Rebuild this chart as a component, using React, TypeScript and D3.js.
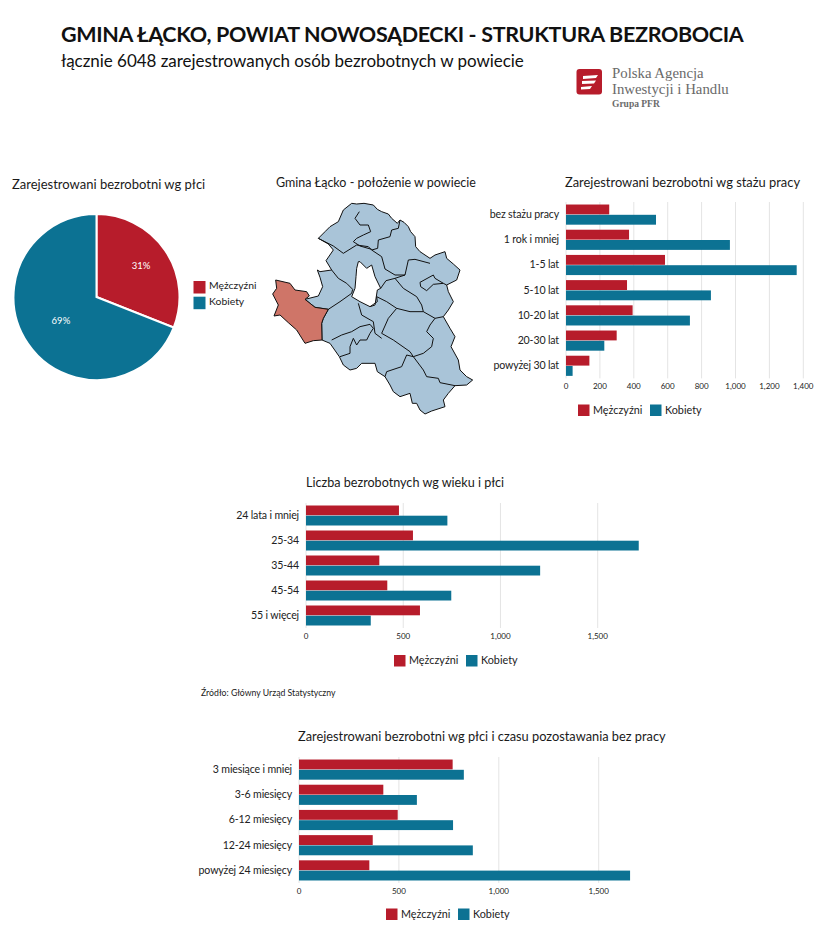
import React from 'react';
import * as d3 from 'd3';

type Pt = [number, number];

const FONT = 'Lato, sans-serif';
const RED = '#b71c2b';
const TEAL = '#0c7293';

const seriesNames = ['Mężczyźni', 'Kobiety'];

// pie
const genderShares = [31, 69];

// staż pracy
const stazCategories = ['bez stażu pracy', '1 rok i mniej', '1-5 lat', '5-10 lat', '10-20 lat', '20-30 lat', 'powyżej 30 lat'];
const stazMen = [255, 372, 584, 360, 393, 299, 138];
const stazWomen = [531, 967, 1361, 855, 731, 226, 39];
const stazTicks = [0, 200, 400, 600, 800, 1000, 1200, 1400];

// wiek
const wiekCategories = ['24 lata i mniej', '25-34', '35-44', '45-54', '55 i więcej'];
const wiekMen = [478, 550, 377, 418, 586];
const wiekWomen = [727, 1711, 1204, 747, 333];
const wiekTicks = [0, 500, 1000, 1500];

// czas pozostawania bez pracy
const czasCategories = ['3 miesiące i mniej', '3-6 miesięcy', '6-12 miesięcy', '12-24 miesięcy', 'powyżej 24 miesięcy'];
const czasMen = [769, 422, 494, 369, 352];
const czasWomen = [825, 590, 771, 870, 1657];
const czasTicks = [0, 500, 1000, 1500];

// map outlines (map units = 3x page px)
const countyOutline: Pt[] = [
  [275, 40], [290, 42], [312, 40], [340, 45], [352, 58], [365, 65], [385, 72], [395, 85], [412, 100], [420, 90], [432, 97], [445, 110],
  [452, 125], [465, 140], [467, 170], [480, 185], [510, 205], [525, 195], [555, 185], [560, 205], [580, 222],
  [600, 240], [590, 270], [560, 285], [565, 305], [580, 335], [565, 360], [550, 380], [570, 415], [585, 440],
  [573, 470], [595, 510], [600, 540], [620, 560], [638, 570], [620, 585], [585, 587], [565, 610], [550, 630], [555, 650],
  [515, 663], [495, 672], [480, 660], [470, 640], [457, 640], [450, 610], [420, 620], [400, 605], [390, 585], [375, 560],
  [352, 545], [345, 520], [305, 520], [290, 535], [270, 540], [250, 525], [238, 500], [210, 460], [186, 450], [185, 400],
  [190, 385], [205, 358], [165, 352], [135, 328], [175, 318], [188, 290], [180, 262], [172, 240], [180, 245], [215, 240],
  [198, 212], [220, 180], [205, 162], [175, 145], [195, 125], [210, 110], [235, 95], [250, 60],
];
const countyHole: Pt[] = [
  [295, 215], [300, 215], [320, 235], [335, 225], [345, 260], [362, 295], [352, 300], [345, 345], [330, 350], [300, 335],
  [275, 320], [285, 295], [288, 260], [290, 235],
];
const lackoOutline: Pt[] = [
  [47, 270], [90, 280], [105, 300], [140, 305], [148, 318], [135, 328], [165, 352], [205, 358], [190, 385], [185, 400],
  [186, 450], [160, 452], [135, 460], [110, 420], [85, 398], [60, 375], [42, 378], [55, 345], [38, 312], [50, 295],
];
const enclave: Pt[] = [
  [480, 277], [520, 255], [525, 265], [550, 280], [520, 283], [500, 302], [482, 290],
];
const gminaBorders: Pt[][] = [
  [[298, 65], [285, 85], [300, 105], [325, 105], [332, 125], [310, 135], [290, 145], [280, 155], [300, 168], [335, 178]],
  [[175, 145], [220, 168], [250, 190], [290, 165], [325, 170], [335, 180], [365, 200], [375, 237], [405, 255], [435, 255], [445, 210], [465, 208], [510, 220]],
  [[335, 180], [353, 175], [355, 150], [390, 140], [395, 120], [415, 115], [420, 90]],
  [[215, 240], [235, 265], [260, 280], [278, 298], [275, 310], [240, 335], [205, 358]],
  [[435, 255], [405, 265], [430, 295], [470, 320], [485, 345], [490, 365], [525, 385], [550, 380]],
  [[405, 265], [378, 272], [362, 295]],
  [[350, 320], [380, 335], [410, 355], [450, 365], [490, 365]],
  [[410, 355], [385, 385], [365, 430], [400, 450], [450, 485], [460, 500]],
  [[525, 385], [510, 405], [500, 425], [520, 445], [515, 470], [490, 490], [460, 500]],
  [[460, 500], [490, 540], [500, 560], [535, 565], [540, 578], [585, 587]],
  [[460, 500], [440, 495], [425, 530], [380, 545], [375, 560]],
  [[295, 340], [305, 375], [340, 395], [345, 430], [365, 445]],
  [[330, 350], [352, 335], [350, 320]],
  [[215, 450], [245, 435], [275, 425], [300, 410], [330, 403], [340, 415], [330, 430], [320, 450], [300, 450], [290, 465], [280, 445], [270, 470], [270, 490], [240, 500]],
  [[550, 280], [560, 285]],
];

// labels sit at different distances from the centre in the two slices
const pieLabelRadius = [54, 43];

const Legend = ({ x1, x2, y }: { x1: number; x2: number; y: number }) => (
  <g fontFamily={FONT} fontSize={10.8} fill="#222">
    {[x1, x2].map((x, i) => (
      <g key={i}>
        <rect x={x} y={y} width={11.5} height={11.5} fill={i === 0 ? RED : TEAL} />
        <text x={x + 15} y={y + 6.5} dominantBaseline="middle">{seriesNames[i]}</text>
      </g>
    ))}
  </g>
);

interface BarProps {
  categories: string[];
  men: number[];
  women: number[];
  ticks: number[];
  x0: number;
  x1: number;
  maxTick: number;
  top: number;
  bottom: number;
}

const BarChart = ({ categories, men, women, ticks, x0, x1, maxTick, top, bottom }: BarProps) => {
  const x = d3.scaleLinear().domain([0, maxTick]).range([x0, x1]);
  const y = d3.scaleBand().domain(categories).range([top, bottom]).paddingInner(0.2).paddingOuter(0.1);
  const sub = d3.scaleBand().domain(seriesNames).range([0, y.bandwidth()]).paddingInner(0.04);
  const fmt = d3.format(',');
  return (
    <g fontFamily={FONT}>
      {ticks.map(t => (
        <g key={t}>
          <line x1={x(t)} x2={x(t)} y1={top} y2={bottom} stroke="#e4e4e4" strokeWidth={1} />
          <text x={x(t)} y={bottom + 9} textAnchor="middle" dominantBaseline="middle" fontSize={8} fill="#222">{fmt(t)}</text>
        </g>
      ))}
      {categories.map((c, i) => (
        <g key={c}>
          <text x={x0 - 7} y={y(c)! + y.bandwidth() / 2 + 0.8} textAnchor="end" dominantBaseline="middle" fontSize={10.6} letterSpacing={-0.15} fill="#222">{c}</text>
          <rect x={x0} y={y(c)! + sub(seriesNames[0])!} width={x(men[i]) - x0} height={sub.bandwidth()} fill={RED} />
          <rect x={x0} y={y(c)! + sub(seriesNames[1])!} width={x(women[i]) - x0} height={sub.bandwidth()} fill={TEAL} />
        </g>
      ))}
    </g>
  );
};

const PieChart = ({ cx, cy, r }: { cx: number; cy: number; r: number }) => {
  const arcs = d3.pie<number>().sort(null)(genderShares);
  const arc = d3.arc<d3.PieArcDatum<number>>().innerRadius(0).outerRadius(r);
  return (
    <g transform={`translate(${cx},${cy})`}>
      {arcs.map((a, i) => (
        <path key={i} d={arc(a)!} fill={i === 0 ? RED : TEAL} stroke="#fff" strokeWidth={2} />
      ))}
      {arcs.map((a, i) => {
        const label = d3.arc<d3.PieArcDatum<number>>().innerRadius(pieLabelRadius[i]).outerRadius(pieLabelRadius[i]);
        const [lx, ly] = label.centroid(a);
        return (
          <text key={i} x={lx} y={ly} textAnchor="middle" dominantBaseline="middle" fontFamily={FONT} fontSize={9.5} fill="#fff">
            {a.data}%
          </text>
        );
      })}
    </g>
  );
};

const GminaMap = () => {
  const mx = d3.scaleLinear().domain([0, 230 * 3]).range([260, 490]);
  const my = d3.scaleLinear().domain([0, 230 * 3]).range([190, 420]);
  const line = d3.line<Pt>().x(d => mx(d[0])).y(d => my(d[1]));
  const closed = (pts: Pt[]) => line(pts)! + 'Z';
  return (
    <g strokeLinejoin="round">
      <path d={closed(countyOutline) + closed(countyHole)} fillRule="evenodd" fill="#a9c4d8" stroke="#111" strokeWidth={1} />
      <path d={closed(enclave)} fill="#a9c4d8" stroke="#111" strokeWidth={1} />
      <path d={closed(lackoOutline)} fill="#cf7568" stroke="#111" strokeWidth={1} />
      {gminaBorders.map((b, i) => (
        <path key={i} d={line(b)!} fill="none" stroke="#111" strokeWidth={1} />
      ))}
    </g>
  );
};

const Logo = () => (
  <g>
    <rect x={576.5} y={69} width={25.5} height={25.5} rx={3} fill={RED} />
    <path d="M583 76 L598 75 L596 78 L583 79 Z M582 81 L596 80.5 L594 83.5 L582 84 Z M581 87 L592 86 L590 89 L581 89.5 Z" fill="#fff" />
    <g fontFamily="'Liberation Serif', serif" fill="#6a6a6a">
      <text x={612} y={78} fontSize={14.8}>Polska Agencja</text>
      <text x={612} y={94} fontSize={14.8}>Inwestycji i Handlu</text>
      <text x={612} y={107} fontSize={9.5} fontWeight="bold">Grupa PFR</text>
    </g>
  </g>
);

const Title = ({ x, y, size = 13, children }: { x: number; y: number; size?: number; children: string }) => (
  <text x={x} y={y} fontFamily={FONT} fontSize={size} fill="#1a1a1a" dominantBaseline="middle">{children}</text>
);

export default function App() {
  return (
    <svg width={823} height={947} style={{ position: 'absolute', left: 0, top: 0, background: '#fff' }}>
      <text x={61} y={42} fontFamily={FONT} fontWeight="bold" fontSize={21.5} letterSpacing={-0.33} fill="#111">GMINA ŁĄCKO, POWIAT NOWOSĄDECKI - STRUKTURA BEZROBOCIA</text>
      <text x={61} y={67} fontFamily={FONT} fontSize={17} letterSpacing={-0.04} fill="#111">łącznie 6048 zarejestrowanych osób bezrobotnych w powiecie</text>
      <Logo />

      <Title x={12} y={185.5}>Zarejestrowani bezrobotni wg płci</Title>
      <PieChart cx={96.5} cy={297} r={83} />
      <g fontFamily={FONT} fontSize={10.4} fill="#222">
        {seriesNames.map((s, i) => (
          <g key={s}>
            <rect x={193.5} y={281 + i * 15.7} width={12} height={12.5} fill={i === 0 ? RED : TEAL} />
            <text x={209} y={286.5 + i * 15.7} dominantBaseline="middle">{s}</text>
          </g>
        ))}
      </g>

      <Title x={276} y={184} size={12.5}>Gmina Łącko - położenie w powiecie</Title>
      <GminaMap />

      <Title x={565} y={184} size={12.9}>Zarejestrowani bezrobotni wg stażu pracy</Title>
      <BarChart categories={stazCategories} men={stazMen} women={stazWomen} ticks={stazTicks} x0={566} x1={803.3} maxTick={1400} top={202} bottom={378.4} />
      <Legend x1={578} x2={650} y={404.5} />

      <Title x={306} y={484} size={12.6}>Liczba bezrobotnych wg wieku i płci</Title>
      <BarChart categories={wiekCategories} men={wiekMen} women={wiekWomen} ticks={wiekTicks} x0={306} x1={597.7} maxTick={1500} top={503} bottom={628} />
      <Legend x1={394} x2={466} y={655} />
      <text x={201} y={693.5} fontFamily={FONT} fontSize={8.7} fill="#222" dominantBaseline="middle">Źródło: Główny Urząd Statystyczny</text>

      <Title x={298} y={738} size={12.8}>Zarejestrowani bezrobotni wg płci i czasu pozostawania bez pracy</Title>
      <BarChart categories={czasCategories} men={czasMen} women={czasWomen} ticks={czasTicks} x0={299} x1={598.7} maxTick={1500} top={757} bottom={883} />
      <Legend x1={386} x2={458} y={908.5} />
    </svg>
  );
}
